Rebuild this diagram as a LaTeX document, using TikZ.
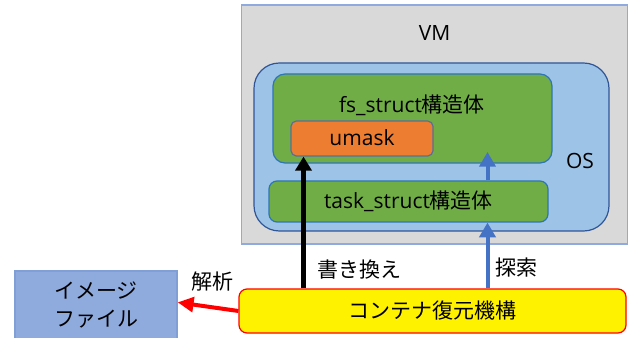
\documentclass[tikz,border=0pt]{standalone}
\usepackage{fontspec}
\setmainfont{Noto Sans CJK JP}
\newfontfamily\latn{Open Sans}
\usetikzlibrary{arrows.meta}
\definecolor{vmfill}{HTML}{D9D9D9}
\definecolor{vmline}{HTML}{8FAADC}
\definecolor{osfill}{HTML}{9DC3E6}
\definecolor{osline}{HTML}{2F5597}
\definecolor{grfill}{HTML}{70AD47}
\definecolor{grline}{HTML}{2E75B6}
\definecolor{orfill}{HTML}{ED7D31}
\definecolor{orline}{HTML}{5B6E96}
\definecolor{imfill}{HTML}{8FAADC}
\definecolor{imline}{HTML}{7F9FD6}
\definecolor{arblue}{HTML}{4472C4}
\tikzset{
  base/.style={inner sep=0pt, line width=0.9pt, font=\fontsize{15.75}{21}\selectfont},
  vmbox/.style={base, draw=vmline, fill=vmfill},
  osbox/.style={base, draw=osline, fill=osfill, rounded corners=19pt},
  grbox/.style={base, draw=grline, fill=grfill},
  orbox/.style={base, draw=orline, fill=orfill, rounded corners=4pt},
  contbox/.style={base, draw=red, fill=yellow, rounded corners=6pt},
  imbox/.style={base, draw=imline, fill=imfill, align=center},
  lbl/.style={inner sep=0pt, font=\fontsize{15.75}{21}\selectfont},
  blk/.style={line width=3.2pt, black, -{Triangle[length=10.5pt,width=12pt]}},
  blu/.style={line width=3pt, arblue, -{Triangle[length=11pt,width=12pt]}},
  rdar/.style={line width=3pt, red, -{Triangle[length=12pt,width=11pt]}},
}
\begin{document}
\begin{tikzpicture}[x=0.75pt,y=-0.75pt]
\useasboundingbox (0,0) rectangle (628,338);
\fill[white] (0,0) rectangle (628,338);
\node[vmbox, minimum width=289.5pt, minimum height=179.25pt] (vm) at (434.5,124.5) {};
\node[lbl] (vmt) at (434.5,33) {\latn VM};
\node[osbox, minimum width=266.25pt, minimum height=126pt] (os) at (431.5,147) {};
\node[lbl] (ost) at (580,161) {\latn OS};
\node[grbox, rounded corners=9pt, minimum width=209.25pt, minimum height=66.75pt] (fs) at (412.5,118.5) {};
\node[lbl] (fst) at (412,105) {{\latn fs\_struct}構造体};
\node[orbox, minimum width=106.5pt, minimum height=26.25pt] (umask) at (362,138.5) {};
\node[lbl] (umt) at (362,138) {\latn umask};
\node[grbox, rounded corners=6pt, minimum width=209.25pt, minimum height=30.75pt] (task) at (408.5,201.5) {{\latn task\_struct}構造体};
\node[contbox, minimum width=290.25pt, minimum height=33pt] (cont) at (432.5,311) {コンテナ復元機構};
\node[imbox, minimum width=121.5pt, minimum height=51pt] (img) at (96,305) {イメージ\\ファイル};
\coordinate (bx) at (303.5,0);
\coordinate (sx) at (487.5,0);
\coordinate (fstip) at (487.5,152);
\draw[blk] (cont.north -| bx) -- (umask.south -| bx);
\draw[blu] (cont.north -| sx) -- (task.south -| sx);
\draw[blu] (task.north -| sx) -- (fstip);
\draw[rdar] (cont.west) -- ([yshift=2pt]img.east);
\node[lbl] (kaki) at (359,270) {書き換え};
\node[lbl] (tan) at (516,268) {探索};
\node[lbl] (kai) at (212,282) {解析};
\end{tikzpicture}
\end{document}
